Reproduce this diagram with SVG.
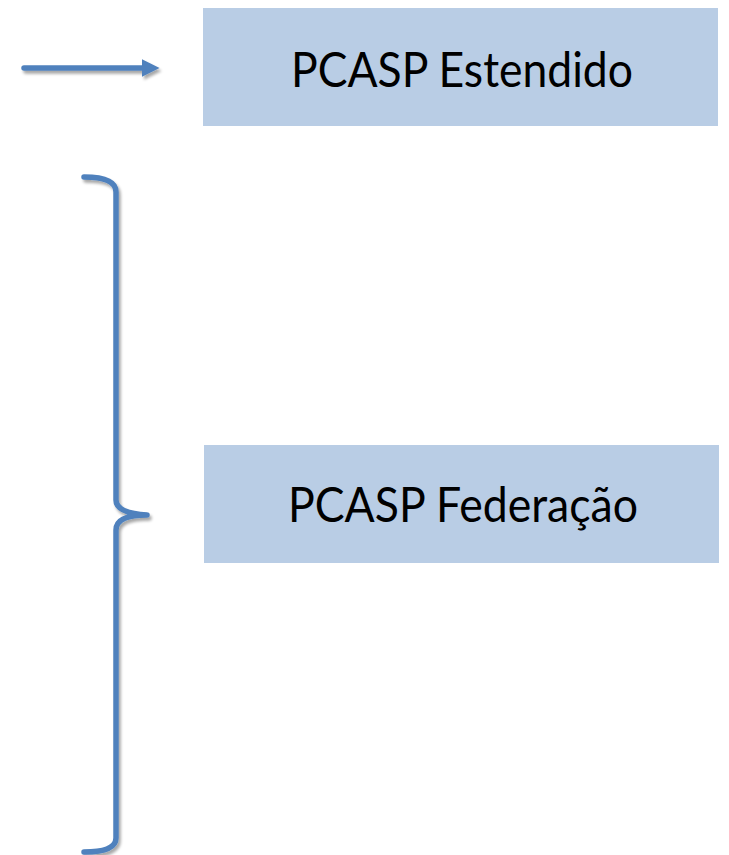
<svg xmlns="http://www.w3.org/2000/svg" width="729" height="855" viewBox="0 0 729 855">
<defs>
<style>
.box{fill:#B9CDE5;}
.lbl{font-family:Lato,"Open Sans","Liberation Sans",sans-serif;font-size:49px;fill:#000;text-anchor:middle;}
.conn{fill:none;stroke:#4F81BD;stroke-width:5.5;stroke-linecap:round;stroke-linejoin:round;}
</style>
<filter id="sh" x="-20%" y="-20%" width="140%" height="140%">
<feGaussianBlur in="SourceAlpha" stdDeviation="1.5"/>
<feOffset dx="2" dy="3" result="b"/>
<feComponentTransfer><feFuncA type="linear" slope="0.35"/></feComponentTransfer>
<feMerge><feMergeNode/><feMergeNode in="SourceGraphic"/></feMerge>
</filter>
<marker id="ah" markerWidth="3.2" markerHeight="3.2" refX="0" refY="1.6" orient="auto" markerUnits="strokeWidth" viewBox="0 0 3.2 3.2">
<path d="M0,0 L3.2,1.6 L0,3.2 Z" fill="#4F81BD"/>
</marker>
</defs>
<g id="node-estendido">
<rect class="box" x="203" y="8" width="515" height="118"/>
<text class="lbl" x="462" y="87" textLength="342" lengthAdjust="spacingAndGlyphs">PCASP Estendido</text>
</g>
<g id="node-federacao">
<rect class="box" x="204" y="445" width="515" height="118"/>
<text class="lbl" x="463" y="522" textLength="350" lengthAdjust="spacingAndGlyphs">PCASP Federação</text>
</g>
<g id="connectors" filter="url(#sh)">
<path class="conn" d="M24,68 L142,68" marker-end="url(#ah)" stroke-linecap="butt"/>
<path class="conn" d="M84,177 Q116,177 116,192 L116,500 Q116,513 147,515 M147,515 Q116,515 116,530 L116,838 Q116,852 84,852"/>
</g>
</svg>
